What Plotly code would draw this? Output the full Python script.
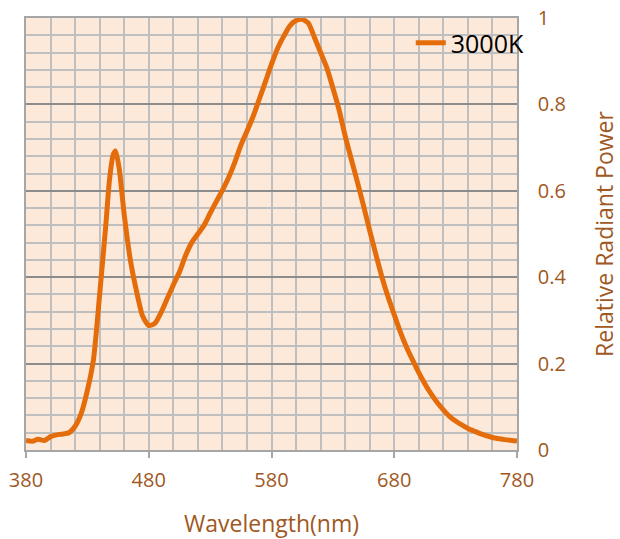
import plotly.graph_objects as go

wavelength = [380, 385, 390, 395, 400, 405, 410, 415, 420, 425, 430, 435, 440, 445, 448, 451, 453,
              456, 460, 465, 470, 475, 480, 485, 490, 495, 500, 505, 510, 515, 520, 525, 530,
              535, 540, 545, 550, 555, 560, 565, 570, 575, 580, 585, 590, 595, 600, 605, 610,
              615, 620, 625, 630, 635, 640, 645, 650, 655, 660, 665, 670, 675, 680, 685, 690,
              695, 700, 705, 710, 715, 720, 725, 730, 735, 740, 745, 750, 760, 770, 780]
power_3000k = [0.022, 0.020, 0.025, 0.022, 0.031, 0.035, 0.037, 0.040, 0.055, 0.085, 0.138, 0.21,
               0.36, 0.52, 0.625, 0.683, 0.692, 0.650, 0.545, 0.440, 0.368, 0.310, 0.288, 0.293,
               0.318, 0.350, 0.382, 0.412, 0.450, 0.480, 0.500, 0.520, 0.548, 0.575, 0.601,
               0.630, 0.665, 0.705, 0.738, 0.772, 0.812, 0.852, 0.893, 0.930, 0.958, 0.982,
               0.994, 0.997, 0.988, 0.955, 0.920, 0.885, 0.838, 0.788, 0.727, 0.673, 0.620,
               0.565, 0.508, 0.453, 0.400, 0.354, 0.313, 0.273, 0.238, 0.208, 0.179, 0.153,
               0.130, 0.110, 0.093, 0.078, 0.067, 0.058, 0.050, 0.044, 0.038, 0.029, 0.024, 0.021]
series_name = "3000K"
x_ticks = [380, 480, 580, 680, 780]
y_ticks = [0, 0.2, 0.4, 0.6, 0.8, 1]
y_tick_labels = ["0", "0.2", "0.4", "0.6", "0.8", "1"]

brown = "#A0581E"
font_family = "Open Sans, Noto Sans, sans-serif"

fig = go.Figure()
fig.add_trace(go.Scatter(
    x=wavelength, y=power_3000k, name=series_name, mode="lines",
    line=dict(color="#E46C0A", width=5, shape="spline", smoothing=0.6),
    showlegend=True,
))

fig.update_layout(
    width=620, height=539,
    margin=dict(l=26, r=103, t=18, b=89, autoexpand=False),
    paper_bgcolor="white",
    plot_bgcolor="#FDE9DA",
    font=dict(family=font_family, size=20, color=brown),
    showlegend=True,
    legend=dict(x=1.026, xanchor="right", y=0.942, yanchor="middle",
                bgcolor="rgba(0,0,0,0)", font=dict(color="black", size=25),
                tracegroupgap=0),
    xaxis=dict(
        range=[380, 780], tickvals=x_ticks, ticktext=[str(v) for v in x_ticks],
        ticks="outside", ticklen=6, tickcolor="#A6A6A6", tickwidth=1.5,
        showgrid=True, gridcolor="#BFBFBF", gridwidth=1.5,
        minor=dict(dtick=20, showgrid=True, gridcolor="#BFBFBF", gridwidth=1.5),
        showline=True, linecolor="#A6A6A6", linewidth=1.5, mirror=True,
        zeroline=False, ticklabelstandoff=5, automargin=False,
        ticklabeloverflow="allow",
        title=dict(text="Wavelength(nm)", font=dict(size=23, color=brown), standoff=27),
        tickfont=dict(size=20, color=brown),
    ),
    yaxis=dict(
        range=[0, 1], side="right", tickvals=y_ticks, ticktext=y_tick_labels,
        ticks="", showgrid=True, gridcolor="#8C8C8C", gridwidth=1.5,
        minor=dict(dtick=0.04, showgrid=True, gridcolor="#BFBFBF", gridwidth=1.5),
        showline=True, linecolor="#A6A6A6", linewidth=1.5, mirror=True,
        zeroline=False, ticklabelstandoff=15, automargin=False,
        ticklabeloverflow="allow",
        title=dict(text="Relative Radiant Power", font=dict(size=23, color=brown), standoff=36),
        tickfont=dict(size=20, color=brown),
    ),
)

# remove the browser's default 8px body margin so the 620x539 figure fills the window
fig.write_html("out.html", config={"displayModeBar": False},
               post_script="document.body.style.margin='0px';")
